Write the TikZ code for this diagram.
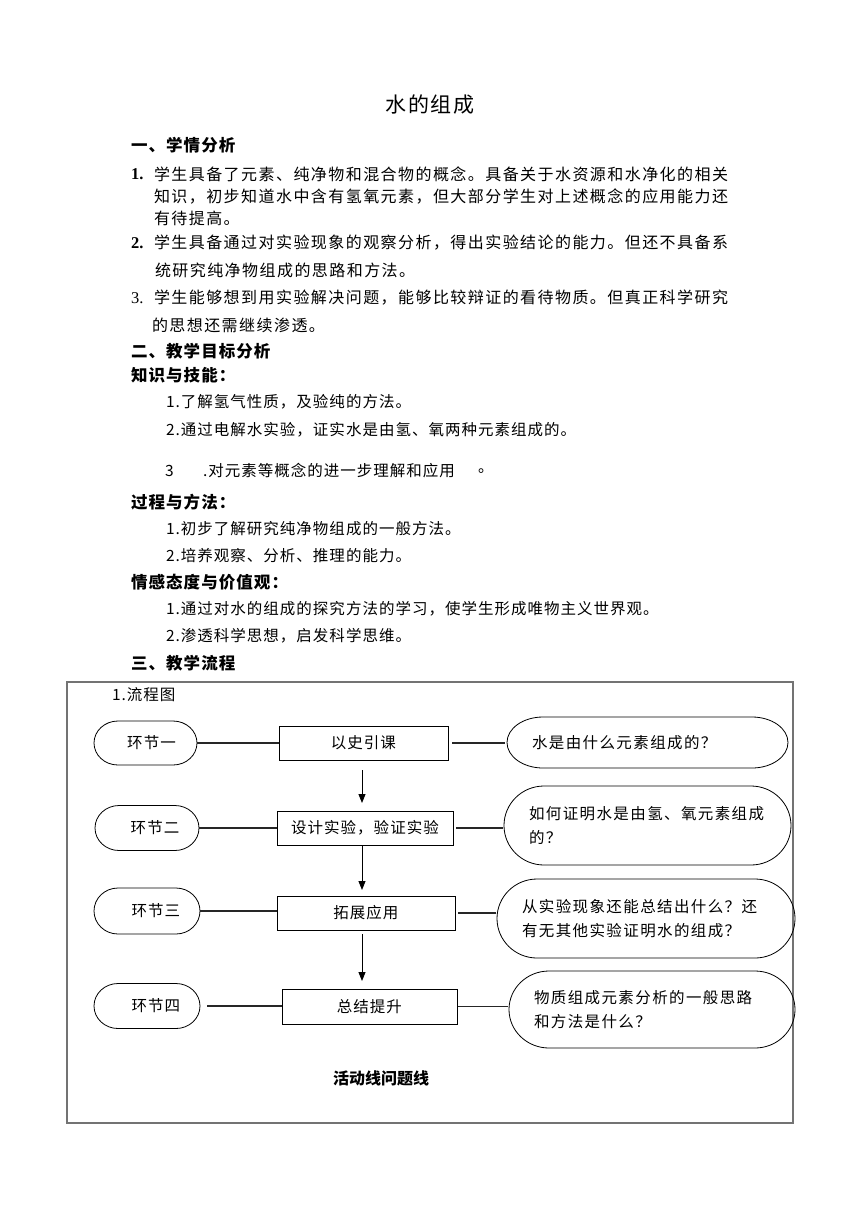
\documentclass[tikz,border=0pt]{standalone}
\usepackage{fontspec}
\setmainfont{Liberation Serif}
\newfontfamily\cjk{Noto Sans CJK SC}
\newfontfamily\cjkA{Noto Sans CJK SC}[LetterSpace=9]
\newfontfamily\cjkB{Noto Sans CJK SC}[LetterSpace=6.5]
\usetikzlibrary{calc,arrows.meta}
\newcommand\fs[1]{\fontsize{#1}{#1}\selectfont}
\newcommand\stadium[2]{%
  \draw[outline] let \p1=(#1.north west), \p2=(#1.south east), \n1={(\y1-\y2)/2} in
    (\x1+#2pt,\y1) -- (\x2-#2pt,\y1)
    arc[start angle=90,end angle=-90,x radius=#2pt,y radius={\n1*1pt}]
    -- (\x1+#2pt,\y2)
    arc[start angle=270,end angle=90,x radius=#2pt,y radius={\n1*1pt}] -- cycle;}
\tikzset{
  every node/.style={inner sep=0pt, outer sep=0pt},
  titletext/.style={font=\cjkB\fs{21}},
  head/.style={anchor=west, font=\cjkB\bfseries\fs{16.5}},
  num/.style={anchor=west, font=\bfseries\fs{16.5}},
  numr/.style={anchor=west, font=\fs{16.5}},
  bodyA/.style={anchor=west, font=\cjkA\fs{16}},
  bodyB/.style={anchor=west, font=\cjkB\fs{15.5}},
  framebox/.style={draw=black!55, line width=1.1pt},
  outline/.style={draw=black, line width=0.8pt},
  stagebox/.style={rectangle, font=\cjkB\fs{15.5}},
  stepbox/.style={rectangle, draw=black, line width=0.9pt, font=\cjkB\fs{15.5}},
  qbox/.style={rectangle, align=left, inner xsep=25pt, font=\cjkA\fontsize{15.5}{23.5}\selectfont},
  conn/.style={draw=black!85, line width=1.1pt},
  arr/.style={draw=black, line width=0.9pt, -{Triangle[length=9pt,width=7pt]}},
}
\begin{document}
\begin{tikzpicture}[x=1pt,y=-1pt]
\fill[white] (0,0) rectangle (860,1216);
\useasboundingbox (0,0) rectangle (860,1216);

% title
\node[titletext] (title) at (430,105) {水的组成};

% section 1
\node[head] (h1) at (131,145) {一、学情分析};
\node[num] (n1) at (131,174) {1.};
\node[bodyA] (l11) at (154,174) {学生具备了元素、纯净物和混合物的概念。具备关于水资源和水净化的相关};
\node[bodyA] (l12) at (154,196) {知识，初步知道水中含有氢氧元素，但大部分学生对上述概念的应用能力还};
\node[bodyA] (l13) at (154,218) {有待提高。};
\node[num] (n2) at (131,243) {2.};
\node[bodyA] (l21) at (154,243) {学生具备通过对实验现象的观察分析，得出实验结论的能力。但还不具备系};
\node[bodyA] (l22) at (155,270) {统研究纯净物组成的思路和方法。};
\node[numr] (n3) at (131,298) {3.};
\node[bodyA] (l31) at (154,298) {学生能够想到用实验解决问题，能够比较辩证的看待物质。但真正科学研究};
\node[bodyA] (l32) at (152,325) {的思想还需继续渗透。};

% section 2
\node[head] (h2) at (131,351) {二、教学目标分析};
\node[head] (h2a) at (131,375) {知识与技能：};
\node[bodyB] (k1) at (166,402) {1.了解氢气性质，及验纯的方法。};
\node[bodyB] (k2) at (166,430) {2.通过电解水实验，证实水是由氢、氧两种元素组成的。};
\node[bodyB] (k3a) at (165,471) {3};
\node[bodyB] (k3b) at (203,471) {.对元素等概念的进一步理解和应用};
\node[bodyB] (k3c) at (478,471) {。};
\node[head] (h2b) at (131,502) {过程与方法：};
\node[bodyB] (p1) at (166,529) {1.初步了解研究纯净物组成的一般方法。};
\node[bodyB] (p2) at (166,556) {2.培养观察、分析、推理的能力。};
\node[head] (h2c) at (131,582) {情感态度与价值观：};
\node[bodyB] (e1) at (166,609) {1.通过对水的组成的探究方法的学习，使学生形成唯物主义世界观。};
\node[bodyB] (e2) at (166,636) {2.渗透科学思想，启发科学思维。};
\node[head] (h3) at (131,663) {三、教学流程};

% flow chart frame
\draw[framebox] (67,682) rectangle (793,1123);
\node[bodyB] (fl) at (112,695) {1.流程图};

% stages
\node[stagebox, minimum width=103pt, minimum height=44pt] (s1) at (145.5,743) {\hspace*{12pt}环节一};
\node[stagebox, minimum width=104pt, minimum height=45pt] (s2) at (147,828) {\hspace*{16pt}环节二};
\node[stagebox, minimum width=106pt, minimum height=46pt] (s3) at (147,911) {\hspace*{18pt}环节三};
\node[stagebox, minimum width=106pt, minimum height=45pt] (s4) at (147,1006) {\hspace*{18pt}环节四};
\stadium{s1}{24}
\stadium{s2}{24}
\stadium{s3}{24}
\stadium{s4}{24}

% steps
\node[stepbox, minimum width=169pt, minimum height=34pt] (b1) at (363.5,743) {以史引课};
\node[stepbox, minimum width=176pt, minimum height=34pt] (b2) at (365,828) {设计实验，验证实验};
\node[stepbox, minimum width=178pt, minimum height=34pt] (b3) at (366,913) {拓展应用};
\node[stepbox, minimum width=175pt, minimum height=35pt] (b4) at (369.5,1006.5) {总结提升};

% questions
\node[qbox, text width=231pt, minimum width=281pt, minimum height=51pt] (q1) at (647.5,742.5) {水是由什么元素组成的？};
\node[qbox, text width=237pt, minimum width=287pt, minimum height=79pt] (q2) at (647.5,825.5) {如何证明水是由氢、氧元素组成\\的？};
\node[qbox, text width=248pt, minimum width=298pt, minimum height=79pt] (q3) at (646,918.5) {从实验现象还能总结出什么？还\\有无其他实验证明水的组成？};
\node[qbox, text width=236pt, minimum width=286pt, minimum height=77pt] (q4) at (652,1009.5) {物质组成元素分析的一般思路\\和方法是什么？};
\stadium{q1}{36}
\stadium{q2}{40}
\stadium{q3}{40}
\stadium{q4}{40}

% connectors
\draw[conn] (s1.east) -- (b1.west);
\draw[conn, shorten <=4pt, shorten >=2pt] (b1.east) -- (q1.west |- b1.east);
\draw[conn] (s2.east) -- (b2.west);
\draw[conn, shorten <=3pt, shorten >=1pt] (b2.east) -- (q2.west |- b2.east);
\draw[conn] (s3.east) -- (b3.west |- s3.east);
\draw[conn, shorten <=3pt, shorten >=1pt] (b3.east) -- (q3.west |- b3.east);
\draw[conn, shorten <=7pt] (s4.east) -- (b4.west |- s4.east);
\draw[conn, shorten <=1pt, shorten >=1pt] (b4.east) -- (q4.west |- b4.east);

% arrows
\coordinate (ax) at (362,0);
\draw[arr, shorten <=10pt, shorten >=8pt] (b1.south -| ax) -- (b2.north -| ax);
\draw[arr, shorten >=6pt] (b2.south -| ax) -- (b3.north -| ax);
\draw[arr, shorten <=4pt, shorten >=8pt] (b3.south -| ax) -- (b4.north -| ax);

\node[font=\cjk\bfseries\fs{16}] (cap) at (381,1078) {活动线问题线};
\end{tikzpicture}
\end{document}
